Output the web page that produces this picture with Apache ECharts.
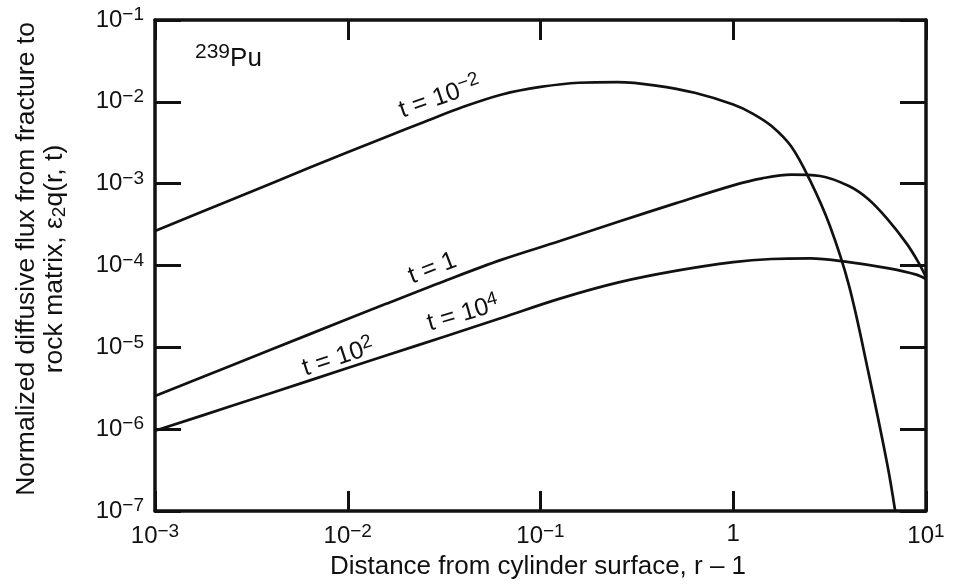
<!DOCTYPE html>
<html>
<head>
<meta charset="utf-8">
<script src="https://cdn.jsdelivr.net/npm/echarts@6/dist/echarts.min.js"></script>
<style>
html,body{margin:0;padding:0;background:#fff;}
#chart{width:953px;height:587px;}
</style>
</head>
<body>
<div id="chart"></div>
<script>
// ---- data ----
const xTickExps = [-3, -2, -1, 0, 1];
const yTickExps = [-7, -6, -5, -4, -3, -2, -1];

// t = 10^-2
const distA = [1e-3, 2.51e-3, 6.31e-3, 1.58e-2, 2.51e-2, 3.98e-2, 6.31e-2, 0.1, 0.158, 0.251, 0.398, 0.631, 1, 1.26, 1.58, 2.0, 2.51, 3.16, 3.98, 5.01, 6.31, 6.92];
const fluxA = [2.64e-4, 6.41e-4, 1.56e-3, 3.72e-3, 5.71e-3, 8.69e-3, 1.23e-2, 1.52e-2, 1.71e-2, 1.74e-2, 1.58e-2, 1.29e-2, 9.27e-3, 7.19e-3, 5.06e-3, 2.84e-3, 1.08e-3, 3.12e-4, 5.75e-5, 5.12e-6, 3.63e-7, 1.0e-7];

// t = 1
const distB = [1e-3, 2.51e-3, 6.31e-3, 1.58e-2, 3.16e-2, 6.31e-2, 0.126, 0.251, 0.501, 1, 1.41, 2.0, 2.82, 3.98, 5.01, 6.31, 7.94, 9.12, 10];
const fluxB = [2.55e-6, 6.04e-6, 1.44e-5, 3.40e-5, 6.44e-5, 1.18e-4, 1.99e-4, 3.40e-4, 5.74e-4, 9.53e-4, 1.16e-3, 1.29e-3, 1.24e-3, 9.35e-4, 6.49e-4, 3.69e-4, 1.85e-4, 1.10e-4, 7.21e-5];

// t = 10^2 and t = 10^4 (coincident)
const distC = [1e-3, 2.51e-3, 6.31e-3, 1.58e-2, 3.16e-2, 6.31e-2, 0.126, 0.251, 0.501, 1, 1.58, 2.51, 3.98, 6.31, 8.91, 10];
const fluxC = [9.55e-7, 1.93e-6, 3.92e-6, 7.94e-6, 1.35e-5, 2.30e-5, 3.94e-5, 6.18e-5, 8.59e-5, 1.10e-4, 1.20e-4, 1.22e-4, 1.10e-4, 9.29e-5, 7.74e-5, 6.82e-5];

// ---- chart ----
const INK = '#111';
const FONT = 'Liberation Sans, Arial, sans-serif';
const tickRich = {
  b: {fontSize: 24, fontFamily: FONT, color: INK},
  s: {fontSize: 19, fontFamily: FONT, color: INK, padding: [0, 0, 10, 0]}
};
const labelRich = {
  b: {fontSize: 25, fontFamily: FONT, fill: INK},
  s: {fontSize: 19, fontFamily: FONT, fill: INK, padding: [0, 0, 12, 0]}
};
function expLabel(v) {
  const e = Math.round(Math.log10(v));
  if (e === 0) return '{b|1}';
  return '{b|10}{s|' + (e < 0 ? '\u2212' + (-e) : e) + '}';
}
function pairs(xs, ys) { return xs.map((x, i) => [x, ys[i]]); }

const lineStyle = {color: INK, width: 2.7};
const frame = {show: true, lineStyle: {color: INK, width: 3.5}};
const xMin = Math.pow(10, xTickExps[0]), xMax = Math.pow(10, xTickExps[xTickExps.length - 1]);
const yMin = Math.pow(10, yTickExps[0]), yMax = Math.pow(10, yTickExps[yTickExps.length - 1]);

const chart = echarts.init(document.getElementById('chart'), null, {renderer: 'canvas'});
chart.setOption({
  backgroundColor: '#fff',
  animation: false,
  grid: {left: 155, right: 27, top: 20, bottom: 76, containLabel: false},
  xAxis: [
    {type: 'log', logBase: 10, min: xMin, max: xMax, interval: 1,
     axisLine: frame, axisTick: {show: true, inside: true, length: 20, lineStyle: {color: INK, width: 3}},
     axisLabel: {show: true, margin: 11, formatter: expLabel, rich: tickRich},
     splitLine: {show: false}, minorTick: {show: false}},
    {type: 'log', logBase: 10, position: 'top', min: xMin, max: xMax, interval: 1,
     axisLine: frame, axisTick: {show: true, inside: true, length: 20, lineStyle: {color: INK, width: 3}},
     axisLabel: {show: false}, splitLine: {show: false}}
  ],
  yAxis: [
    {type: 'log', logBase: 10, min: yMin, max: yMax, interval: 1,
     axisLine: frame, axisTick: {show: true, inside: true, length: 26, lineStyle: {color: INK, width: 3}},
     axisLabel: {show: true, margin: 11, formatter: expLabel, rich: tickRich},
     splitLine: {show: false}},
    {type: 'log', logBase: 10, position: 'right', min: yMin, max: yMax, interval: 1,
     axisLine: frame, axisTick: {show: true, inside: true, length: 26, lineStyle: {color: INK, width: 3}},
     axisLabel: {show: false}, splitLine: {show: false}}
  ],
  series: [
    {type: 'line', name: 't = 10^-2', data: pairs(distA, fluxA), smooth: 0.35, showSymbol: false, lineStyle: lineStyle, clip: true},
    {type: 'line', name: 't = 1', data: pairs(distB, fluxB), smooth: 0.35, showSymbol: false, lineStyle: lineStyle, clip: true},
    {type: 'line', name: 't = 10^2, 10^4', data: pairs(distC, fluxC), smooth: 0.35, showSymbol: false, lineStyle: lineStyle, clip: true}
  ],
  graphic: [
    {type: 'text', x: 195, y: 75, style: {text: '{s|239}{b|Pu}', textVerticalAlign: 'bottom', rich: {
      b: {fontSize: 26, fontFamily: FONT, fill: INK}, s: {fontSize: 21, fontFamily: FONT, fill: INK, padding: [0, 0, 12, 0]}}}},
    {type: 'text', x: 405, y: 126, rotation: 19 * Math.PI / 180, style: {text: '{b|t = 10}{s|\u22122}', textVerticalAlign: 'bottom', rich: labelRich}},
    {type: 'text', x: 414, y: 289, rotation: 21 * Math.PI / 180, style: {text: '{b|t = 1}', textVerticalAlign: 'bottom', rich: labelRich}},
    {type: 'text', x: 432, y: 339, rotation: 16 * Math.PI / 180, style: {text: '{b|t = 10}{s|4}', textVerticalAlign: 'bottom', rich: labelRich}},
    {type: 'text', x: 308, y: 384, rotation: 18 * Math.PI / 180, style: {text: '{b|t = 10}{s|2}', textVerticalAlign: 'bottom', rich: labelRich}},
    {type: 'text', x: 538, y: 567, style: {text: 'Distance from cylinder surface, r \u2013 1', textAlign: 'center', textVerticalAlign: 'middle',
      fontSize: 26, fontFamily: FONT, fill: INK}},
    {type: 'text', x: 41, y: 259, rotation: Math.PI / 2, style: {
      text: '{b|Normalized diffusive flux from fracture to}\n{b|rock matrix, \u03b5}{sub|2}{b|q(r, t)}',
      textAlign: 'center', textVerticalAlign: 'middle', align: 'center', rich: {
        b: {fontSize: 26.5, fontFamily: FONT, fill: INK, lineHeight: 28, align: 'center'},
        sub: {fontSize: 19, fontFamily: FONT, fill: INK, lineHeight: 28, padding: [9, 0, 0, 0]}}}}
  ]
});
</script>
</body>
</html>
